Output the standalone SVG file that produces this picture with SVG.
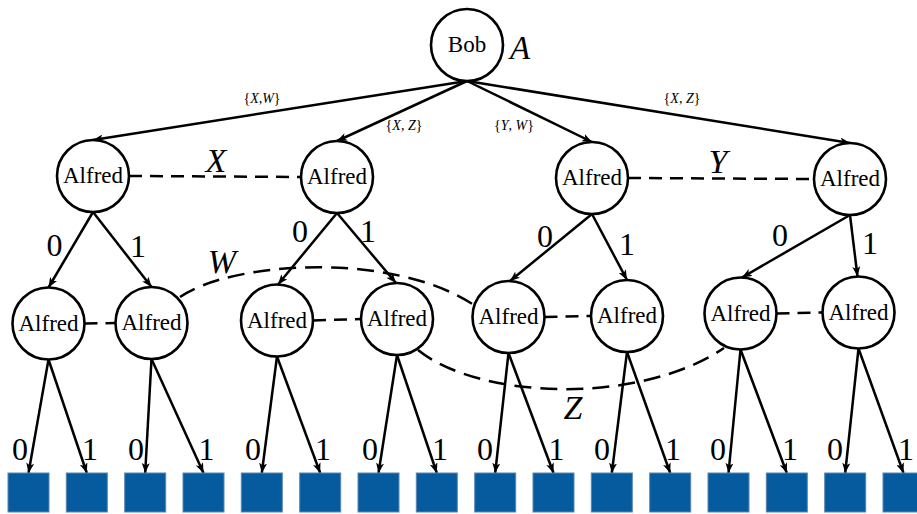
<svg xmlns="http://www.w3.org/2000/svg" width="917" height="514" viewBox="0 0 917 514" font-family="'Liberation Serif', 'Times New Roman', 'DejaVu Serif', serif">
<style>
.n{fill:#fff;stroke:#000;stroke-width:2.6}
text{font-family:'Liberation Serif','Times New Roman','DejaVu Serif',serif}
.t{font-size:23px;text-anchor:middle;fill:#000}
.e{stroke:#000;stroke-width:2.5;fill:none;marker-end:url(#ah)}
.d{stroke:#000;stroke-width:2.5;fill:none;stroke-dasharray:13 8}
.dc{stroke:#000;stroke-width:2.5;fill:none;stroke-dasharray:17 9}
.lb{font-size:32px;text-anchor:middle;fill:#000}
.it{font-size:34px;font-style:italic;text-anchor:middle;fill:#000}
.el{font-size:14px;text-anchor:middle;fill:#000}
.leaf{fill:#055b9e;stroke:#5b86b0;stroke-width:1}
</style>
<defs>
<marker id="ah" viewBox="0 0 10 8" refX="10" refY="4" markerWidth="10" markerHeight="8" markerUnits="userSpaceOnUse" orient="auto">
<path d="M0,0 L10,4 L0,8 L2.5,4 z" fill="#000"/>
</marker>
</defs>
<rect width="917" height="514" fill="#fff"/>
<g id="connectors">
<line class="e" x1="467" y1="81" x2="93" y2="140"/>
<line class="e" x1="467" y1="81" x2="337" y2="141"/>
<line class="e" x1="467" y1="81" x2="592" y2="142"/>
<line class="e" x1="467" y1="81" x2="850" y2="143"/>
<line class="e" x1="93" y1="212" x2="48.5" y2="287.5"/>
<line class="e" x1="93" y1="212" x2="151.5" y2="287"/>
<line class="e" x1="337" y1="213" x2="278" y2="284.5"/>
<line class="e" x1="337" y1="213" x2="396" y2="283"/>
<line class="e" x1="592" y1="214" x2="510" y2="281"/>
<line class="e" x1="592" y1="214" x2="627" y2="280"/>
<line class="e" x1="850" y1="215" x2="742" y2="277.5"/>
<line class="e" x1="850" y1="215" x2="857.5" y2="276.5"/>
<line class="e" x1="48.5" y1="359.5" x2="28.5" y2="473"/>
<line class="e" x1="48.5" y1="359.5" x2="86.8" y2="473"/>
<line class="e" x1="151.5" y1="359" x2="145.2" y2="473"/>
<line class="e" x1="151.5" y1="359" x2="203.5" y2="473"/>
<line class="e" x1="277" y1="356.5" x2="261.8" y2="473"/>
<line class="e" x1="277" y1="356.5" x2="320.2" y2="473"/>
<line class="e" x1="397" y1="355" x2="378.5" y2="473"/>
<line class="e" x1="397" y1="355" x2="436.8" y2="473"/>
<line class="e" x1="508.5" y1="353" x2="495.2" y2="473"/>
<line class="e" x1="508.5" y1="353" x2="553.5" y2="473"/>
<line class="e" x1="627" y1="352" x2="611.8" y2="473"/>
<line class="e" x1="627" y1="352" x2="670.2" y2="473"/>
<line class="e" x1="740.5" y1="349.5" x2="728.5" y2="473"/>
<line class="e" x1="740.5" y1="349.5" x2="786.8" y2="473"/>
<line class="e" x1="858.5" y1="348.5" x2="845.2" y2="473"/>
<line class="e" x1="858.5" y1="348.5" x2="903.5" y2="473"/>
<line class="d" x1="129" y1="176" x2="301" y2="177"/>
<line class="d" x1="628" y1="178" x2="814" y2="179"/>
<line class="d" x1="84.5" y1="323.5" x2="115.5" y2="323"/>
<line class="d" x1="313" y1="320.5" x2="361" y2="319"/>
<line class="d" x1="544.5" y1="317" x2="591" y2="316"/>
<line class="d" x1="776.5" y1="313.5" x2="822.5" y2="312.5"/>
<path class="dc" d="M180,297 C230,262 390,250 474,305"/>
<path class="dc" d="M418,350 C480,400 640,405 724,348"/>
<text class="el" x="262" y="103">{<tspan font-style="italic">X</tspan>,<tspan font-style="italic">W</tspan>}</text>
<text class="el" x="404" y="130">{<tspan font-style="italic">X</tspan>, <tspan font-style="italic">Z</tspan>}</text>
<text class="el" x="514" y="130">{<tspan font-style="italic">Y</tspan>, <tspan font-style="italic">W</tspan>}</text>
<text class="el" x="682" y="103">{<tspan font-style="italic">X</tspan>, <tspan font-style="italic">Z</tspan>}</text>
<text class="lb" x="54.5" y="256">0</text>
<text class="lb" x="138" y="257">1</text>
<text class="lb" x="300" y="242">0</text>
<text class="lb" x="368" y="242">1</text>
<text class="lb" x="545" y="247">0</text>
<text class="lb" x="627" y="255">1</text>
<text class="lb" x="780" y="246">0</text>
<text class="lb" x="870" y="254">1</text>
<text class="lb" x="20" y="460">0</text><text class="lb" x="90" y="460">1</text>
<text class="lb" x="136" y="460">0</text><text class="lb" x="206.5" y="460">1</text>
<text class="lb" x="253" y="460">0</text><text class="lb" x="323" y="460">1</text>
<text class="lb" x="370" y="460">0</text><text class="lb" x="440" y="460">1</text>
<text class="lb" x="485" y="460">0</text><text class="lb" x="556.5" y="460">1</text>
<text class="lb" x="602" y="460">0</text><text class="lb" x="673" y="460">1</text>
<text class="lb" x="718" y="460">0</text><text class="lb" x="790" y="460">1</text>
<text class="lb" x="835" y="460">0</text><text class="lb" x="906" y="460">1</text>
<text class="it" x="216" y="172">X</text>
<text class="it" x="718" y="173">Y</text>
<text class="it" x="222" y="273">W</text>
<text class="it" x="573" y="419">Z</text>
</g>
<g id="bob"><circle class="n" cx="467" cy="45" r="36"/><text class="t" x="467" y="52">Bob</text><text class="it" x="520" y="59" style="font-size:33px">A</text></g>
<g id="a1"><circle class="n" cx="93" cy="176" r="36"/><text class="t" x="93" y="183">Alfred</text></g>
<g id="a2"><circle class="n" cx="337" cy="177" r="36"/><text class="t" x="337" y="184">Alfred</text></g>
<g id="a3"><circle class="n" cx="592" cy="178" r="36"/><text class="t" x="592" y="185">Alfred</text></g>
<g id="a4"><circle class="n" cx="850" cy="179" r="36"/><text class="t" x="850" y="186">Alfred</text></g>
<g id="b1"><circle class="n" cx="48.5" cy="323.5" r="36"/><text class="t" x="48.5" y="330.5">Alfred</text></g>
<g id="b2"><circle class="n" cx="151.5" cy="323" r="36"/><text class="t" x="151.5" y="330">Alfred</text></g>
<g id="b3"><circle class="n" cx="277" cy="320.5" r="36"/><text class="t" x="277" y="327.5">Alfred</text></g>
<g id="b4"><circle class="n" cx="397" cy="319" r="36"/><text class="t" x="397" y="326">Alfred</text></g>
<g id="b5"><circle class="n" cx="508.5" cy="317" r="36"/><text class="t" x="508.5" y="324">Alfred</text></g>
<g id="b6"><circle class="n" cx="627" cy="316" r="36"/><text class="t" x="627" y="323">Alfred</text></g>
<g id="b7"><circle class="n" cx="740.5" cy="313.5" r="36"/><text class="t" x="740.5" y="320.5">Alfred</text></g>
<g id="b8"><circle class="n" cx="858.5" cy="312.5" r="36"/><text class="t" x="858.5" y="319.5">Alfred</text></g>
<g id="leaves">
<rect id="l1" class="leaf" x="8" y="473" width="41" height="39"/>
<rect id="l2" class="leaf" x="66.3" y="473" width="41" height="39"/>
<rect id="l3" class="leaf" x="124.7" y="473" width="41" height="39"/>
<rect id="l4" class="leaf" x="183" y="473" width="41" height="39"/>
<rect id="l5" class="leaf" x="241.3" y="473" width="41" height="39"/>
<rect id="l6" class="leaf" x="299.7" y="473" width="41" height="39"/>
<rect id="l7" class="leaf" x="358" y="473" width="41" height="39"/>
<rect id="l8" class="leaf" x="416.3" y="473" width="41" height="39"/>
<rect id="l9" class="leaf" x="474.7" y="473" width="41" height="39"/>
<rect id="l10" class="leaf" x="533" y="473" width="41" height="39"/>
<rect id="l11" class="leaf" x="591.3" y="473" width="41" height="39"/>
<rect id="l12" class="leaf" x="649.7" y="473" width="41" height="39"/>
<rect id="l13" class="leaf" x="708" y="473" width="41" height="39"/>
<rect id="l14" class="leaf" x="766.3" y="473" width="41" height="39"/>
<rect id="l15" class="leaf" x="824.7" y="473" width="41" height="39"/>
<rect id="l16" class="leaf" x="883" y="473" width="41" height="39"/>
</g>
</svg>
